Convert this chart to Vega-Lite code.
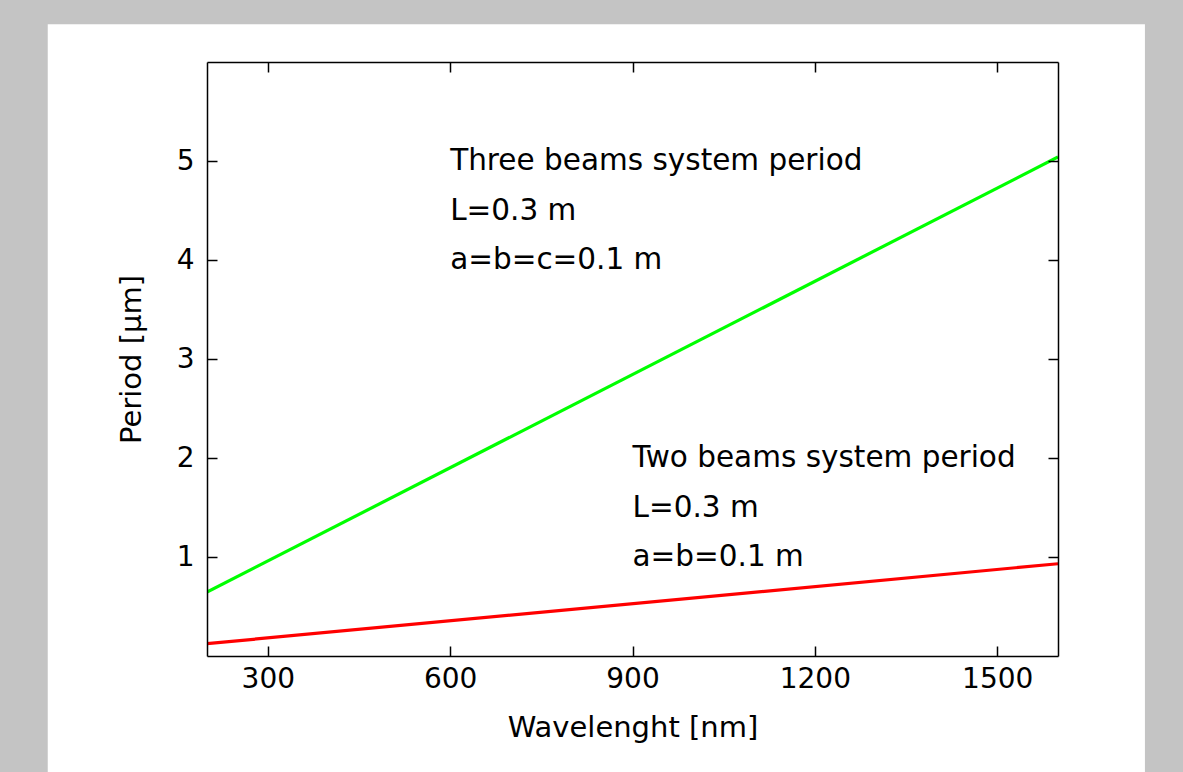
{
  "$schema": "https://vega.github.io/schema/vega-lite/v6.json",
  "width": 851,
  "height": 594,
  "autosize": {"type": "none"},
  "padding": {"left": 207, "top": 62, "right": 125, "bottom": 116},
  "background": "#c4c4c4",
  "config": {
    "view": {"stroke": null, "fill": null},
    "font": "DejaVu Sans",
    "axis": {
      "grid": false,
      "domainColor": "#000000",
      "domainWidth": 1.5,
      "tickColor": "#000000",
      "tickWidth": 1.5,
      "tickSize": -10,
      "labelColor": "#000000",
      "labelFontSize": 28,
      "titleColor": "#000000",
      "titleFontSize": 29,
      "titleFontWeight": "normal"
    }
  },
  "datasets": {
    "lines": [
      {"wavelength": 200, "period": 0.646, "series": "Three beams"},
      {"wavelength": 1600, "period": 5.04, "series": "Three beams"},
      {"wavelength": 200, "period": 0.125, "series": "Two beams"},
      {"wavelength": 1600, "period": 0.932, "series": "Two beams"}
    ],
    "notes": [
      {"wavelength": 600, "period": 5.0, "label": "Three beams system period"},
      {"wavelength": 600, "period": 4.5, "label": "L=0.3 m"},
      {"wavelength": 600, "period": 4.0, "label": "a=b=c=0.1 m"},
      {"wavelength": 900, "period": 2.0, "label": "Two beams system period"},
      {"wavelength": 900, "period": 1.5, "label": "L=0.3 m"},
      {"wavelength": 900, "period": 1.0, "label": "a=b=0.1 m"}
    ]
  },
  "resolve": {"axis": {"x": "independent", "y": "independent"}},
  "layer": [
    {
      "data": {"values": [{}]},
      "mark": {"type": "rect", "fill": "#ffffff", "clip": false},
      "encoding": {
        "x": {
          "datum": -62,
          "type": "quantitative",
          "scale": {"domain": [200, 1600], "nice": false, "zero": false},
          "axis": null
        },
        "x2": {"datum": 1743},
        "y": {
          "datum": 6.381,
          "type": "quantitative",
          "scale": {"domain": [0, 6], "nice": false, "zero": false},
          "axis": null
        },
        "y2": {"datum": -1.3}
      }
    },
    {
      "data": {"name": "lines"},
      "mark": {"type": "line", "strokeWidth": 3.2, "clip": true},
      "encoding": {
        "x": {
          "field": "wavelength",
          "type": "quantitative",
          "axis": {
            "orient": "bottom",
            "zindex": 2,
            "values": [300, 600, 900, 1200, 1500],
            "format": "d",
            "labelPadding": 19,
            "title": "Wavelenght [nm]",
            "titlePadding": 20
          }
        },
        "y": {
          "field": "period",
          "type": "quantitative",
          "axis": {
            "orient": "left",
            "zindex": 2,
            "values": [1, 2, 3, 4, 5],
            "format": "d",
            "labelPadding": 23,
            "title": "Period [µm]",
            "titlePadding": 30
          }
        },
        "color": {
          "field": "series",
          "type": "nominal",
          "scale": {"domain": ["Three beams", "Two beams"], "range": ["#00ff00", "#ff0000"]},
          "legend": null
        },
        "detail": {"field": "series"}
      }
    },
    {
      "data": {"name": "notes"},
      "mark": {"type": "text", "align": "left", "baseline": "middle", "fontSize": 29.5, "color": "#000000"},
      "encoding": {
        "x": {
          "field": "wavelength",
          "type": "quantitative",
          "axis": {
            "orient": "top",
            "zindex": 2,
            "values": [300, 600, 900, 1200, 1500],
            "labels": false,
            "title": null
          }
        },
        "y": {
          "field": "period",
          "type": "quantitative",
          "axis": {
            "orient": "right",
            "zindex": 2,
            "values": [1, 2, 3, 4, 5],
            "labels": false,
            "title": null
          }
        },
        "text": {"field": "label"}
      }
    }
  ]
}
